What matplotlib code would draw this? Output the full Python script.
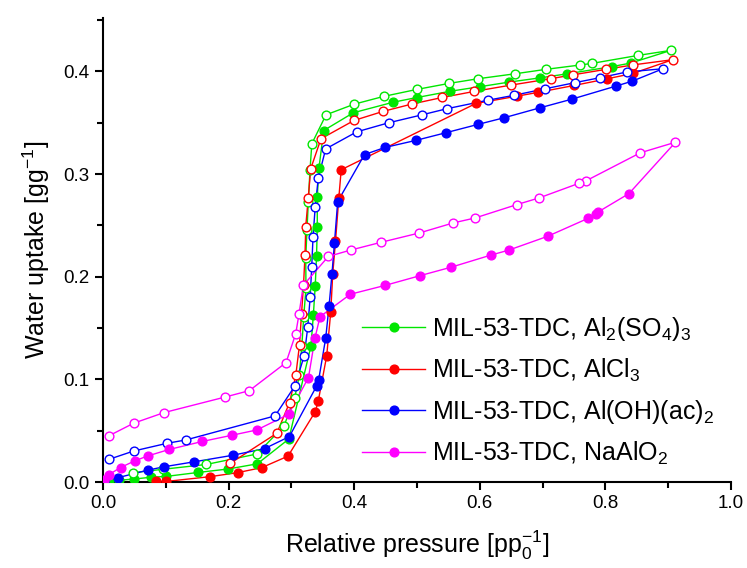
import matplotlib.pyplot as plt
from matplotlib.lines import Line2D
from matplotlib.ticker import MultipleLocator

plt.rcParams['font.family'] = ['Liberation Sans', 'DejaVu Sans']
plt.rcParams['mathtext.default'] = 'regular'

# Al2(SO4)3 - adsorption (filled) and desorption (open)
so4_ads_p = [0.0016, 0.0100, 0.0255, 0.0498, 0.0772, 0.0999, 0.1513, 0.1995, 0.2457, 0.2959,
             0.3312, 0.3349, 0.3379, 0.3400, 0.3412, 0.3412, 0.3439, 0.3514, 0.3986, 0.4623,
             0.4995, 0.5533, 0.6003, 0.6470, 0.6959, 0.7389, 0.8100, 0.8403]
so4_ads_w = [0.0005, 0.0010, 0.0017, 0.0029, 0.0047, 0.0054, 0.0093, 0.0127, 0.0177, 0.0419,
             0.1327, 0.1624, 0.1905, 0.2200, 0.2485, 0.2780, 0.3060, 0.3424, 0.3597, 0.3700,
             0.3745, 0.3807, 0.3851, 0.3896, 0.3937, 0.3976, 0.4046, 0.4081]
so4_des_p = [0.9045, 0.8524, 0.7787, 0.7596, 0.7054, 0.6565, 0.5967, 0.5510, 0.4995, 0.4467,
             0.4002, 0.3551, 0.3325, 0.3296, 0.3269, 0.3248, 0.3228, 0.3232, 0.3196, 0.3166,
             0.3126, 0.3053, 0.2882, 0.2452, 0.1645, 0.0959, 0.0482]
so4_des_w = [0.4205, 0.4156, 0.4078, 0.4062, 0.4020, 0.3977, 0.3928, 0.3883, 0.3824, 0.3756,
             0.3681, 0.3577, 0.3295, 0.3039, 0.2729, 0.2451, 0.2180, 0.1890, 0.1610, 0.1329,
             0.1039, 0.0823, 0.0546, 0.0273, 0.0171, 0.0124, 0.0091]

# AlCl3
cl_ads_p = [0.0836, 0.1000, 0.1704, 0.2142, 0.2527, 0.2946, 0.3381, 0.3428, 0.3562, 0.3626,
            0.3658, 0.3702, 0.3755, 0.3793, 0.5939, 0.6597, 0.6922, 0.7503, 0.8030, 0.8436]
cl_ads_w = [0.0005, 0.0005, 0.0052, 0.0091, 0.0140, 0.0252, 0.0686, 0.0790, 0.1229, 0.1654,
            0.2026, 0.2345, 0.2768, 0.3042, 0.3688, 0.3759, 0.3795, 0.3863, 0.3928, 0.3980]
cl_des_p = [0.9072, 0.8439, 0.8010, 0.7479, 0.7131, 0.6492, 0.5912, 0.5403, 0.4925, 0.4463,
            0.3997, 0.3471, 0.3307, 0.3269, 0.3228, 0.3217, 0.3193, 0.3161, 0.3129, 0.3070,
            0.2970, 0.2768, 0.2030]
cl_des_w = [0.4114, 0.4063, 0.4020, 0.3966, 0.3929, 0.3866, 0.3805, 0.3746, 0.3683, 0.3611,
            0.3522, 0.3344, 0.3051, 0.2771, 0.2488, 0.2213, 0.1922, 0.1639, 0.1337, 0.1041,
            0.0773, 0.0475, 0.0183]

# Al(OH)(ac)2
ac_ads_p = [0.0016, 0.0236, 0.0709, 0.0976, 0.1454, 0.2062, 0.2572, 0.2967, 0.3403, 0.3435,
            0.3546, 0.3599, 0.3646, 0.3686, 0.3737, 0.4164, 0.4490, 0.4976, 0.5457, 0.5967,
            0.6385, 0.6963, 0.7463, 0.8164, 0.8428]
ac_ads_w = [0.0010, 0.0042, 0.0115, 0.0149, 0.0197, 0.0260, 0.0325, 0.0442, 0.0937, 0.0998,
            0.1402, 0.1712, 0.2029, 0.2332, 0.2732, 0.3190, 0.3259, 0.3327, 0.3402, 0.3483,
            0.3548, 0.3646, 0.3729, 0.3856, 0.3905]
ac_des_p = [0.8917, 0.8339, 0.7917, 0.7513, 0.7043, 0.6537, 0.6126, 0.5473, 0.5075, 0.4546,
            0.4040, 0.3546, 0.3428, 0.3379, 0.3344, 0.3323, 0.3299, 0.3260, 0.3204, 0.3057,
            0.2739, 0.1322, 0.1019, 0.0489, 0.0100]
ac_des_w = [0.4026, 0.3994, 0.3939, 0.3890, 0.3831, 0.3766, 0.3719, 0.3636, 0.3576, 0.3499,
            0.3411, 0.3245, 0.2962, 0.2680, 0.2383, 0.2091, 0.1800, 0.1507, 0.1231, 0.0937,
            0.0644, 0.0410, 0.0377, 0.0302, 0.0222]

# NaAlO2
na_ads_p = [0.0016, 0.0096, 0.0279, 0.0502, 0.0712, 0.1054, 0.1580, 0.2057, 0.2449, 0.2954,
            0.3272, 0.3376, 0.3455, 0.3938, 0.4490, 0.5048, 0.5546, 0.6174, 0.6457, 0.7078,
            0.7726, 0.7858, 0.7885, 0.8376]
na_ads_w = [0.0020, 0.0073, 0.0141, 0.0205, 0.0254, 0.0317, 0.0395, 0.0456, 0.0507, 0.0659,
            0.1018, 0.1405, 0.1610, 0.1829, 0.1915, 0.2010, 0.2093, 0.2210, 0.2258, 0.2393,
            0.2569, 0.2613, 0.2631, 0.2810]
na_des_p = [0.9116, 0.8556, 0.7691, 0.7580, 0.6947, 0.6588, 0.5924, 0.5578, 0.5037, 0.4427,
            0.3941, 0.3588, 0.3189, 0.3121, 0.3068, 0.2914, 0.2330, 0.1946, 0.0971, 0.0489,
            0.0100]
na_des_w = [0.3310, 0.3207, 0.2934, 0.2910, 0.2768, 0.2702, 0.2572, 0.2524, 0.2426, 0.2335,
            0.2259, 0.2197, 0.1916, 0.1636, 0.1442, 0.1163, 0.0890, 0.0828, 0.0676, 0.0573,
            0.0452]

series = [
    ("MIL-53-TDC, Al$_2$(SO$_4$)$_3$", "#00e600", so4_ads_p, so4_ads_w, so4_des_p, so4_des_w),
    ("MIL-53-TDC, AlCl$_3$", "#ff0000", cl_ads_p, cl_ads_w, cl_des_p, cl_des_w),
    ("MIL-53-TDC, Al(OH)(ac)$_2$", "#0000ff", ac_ads_p, ac_ads_w, ac_des_p, ac_des_w),
    ("MIL-53-TDC, NaAlO$_2$", "#ff00ff", na_ads_p, na_ads_w, na_des_p, na_des_w),
]

fig = plt.figure(figsize=(7.47, 5.68), dpi=100)
ax = fig.add_axes([0.1379, 0.1514, 0.8407, 0.8169])

handles = []
for label, color, ap, aw, dp, dw in series:
    # one continuous isotherm: adsorption branch then desorption branch
    ax.plot(ap + dp, aw + dw, color=color, lw=1.0, zorder=2)
    ax.plot(ap, aw, 'o', color=color, ms=6.3, mec=color, zorder=3)
    ax.plot(dp, dw, 'o', color=color, ms=6.3, mfc='white', mec=color, mew=1.0, zorder=3)
    handles.append(Line2D([], [], color=color, lw=1.0, marker='o', ms=6.3, label=label))

ax.set_xlim(0, 1.0)
ax.set_ylim(0, 0.452)
ax.xaxis.set_major_locator(MultipleLocator(0.2))
ax.xaxis.set_minor_locator(MultipleLocator(0.1))
ax.yaxis.set_major_locator(MultipleLocator(0.1))
ax.yaxis.set_minor_locator(MultipleLocator(0.05))
ax.xaxis.set_major_formatter(plt.FuncFormatter(lambda v, p: f"{v:.1f}"))
ax.yaxis.set_major_formatter(plt.FuncFormatter(lambda v, p: f"{v:.1f}"))

for side in ('top', 'right'):
    ax.spines[side].set_visible(False)
for side in ('left', 'bottom'):
    ax.spines[side].set_linewidth(1.5)
ax.tick_params(which='major', direction='out', length=6, width=1.5, labelsize=13.5)
ax.tick_params(which='minor', direction='out', length=4, width=1.5)

ax.set_xlabel("Relative pressure [pp$_0^{-1}$]", fontsize=18, labelpad=12)
ax.set_ylabel("Water uptake [gg$^{-1}$]", fontsize=18, labelpad=8)

ax.legend(handles=handles, loc='upper left', bbox_to_anchor=(0.413, 0.36), frameon=False,
          fontsize=18, handlelength=2.5, handletextpad=0.3, labelspacing=0.56,
          borderpad=0, borderaxespad=0)

fig.savefig("out.png", dpi=100)
